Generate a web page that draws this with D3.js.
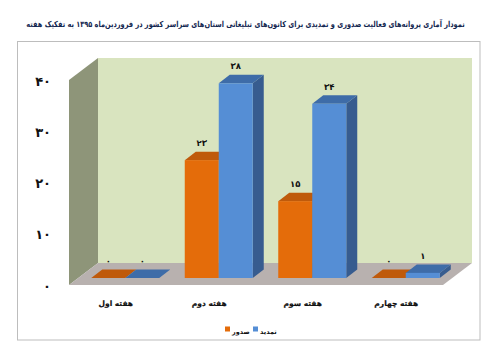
<!DOCTYPE html>
<html lang="fa">
<head>
<meta charset="utf-8">
<script src="https://cdn.jsdelivr.net/npm/d3@7"></script>
<style>
  body { margin: 0; background: white; }
  text { font-family: "DejaVu Sans", sans-serif; font-weight: bold; fill: #111; }
</style>
</head>
<body>
<div id="wykres"></div>
<script>
var categories = ["هفته اول", "هفته دوم", "هفته سوم", "هفته چهارم"];
var sodoor = [0, 23, 15, 0];
var tamdid = [0, 38, 34, 1];
var sodoorLabels = ["۰", "۲۳", "۱۵", "۰"];
var tamdidLabels = ["۰", "۳۸", "۳۴", "۱"];
var yTicks = [0, 10, 20, 30, 40];
var yTickLabels = ["۰", "۱۰", "۲۰", "۳۰", "۴۰"];
var seriesNames = ["صدور", "تمدید"];
var title = "نمودار آماری پروانه‌های فعالیت صدوری و تمدیدی برای کانون‌های تبلیغاتی استان‌های سراسر کشور در فروردین‌ماه ۱۳۹۵ به تفکیک هفته";

var svg = d3.select("#wykres")
  .append("svg")
  .attr("width", 500)
  .attr("height", 352)
  .style("display", "block")
  .style("background", "white");

svg.append("rect")
  .attr("x", 17.5)
  .attr("y", 41.5)
  .attr("width", 462.5)
  .attr("height", 298.5)
  .attr("fill", "white")
  .attr("stroke", "#bdbdbd");

// the title is squeezed sideways to fit, the original font is narrow
var titleText = svg.append("text")
  .attr("text-anchor", "middle")
  .attr("direction", "rtl")
  .style("font-size", "8.3px")
  .style("fill", "#12264f")
  .text(title);
var titleScale = 439 / titleText.node().getComputedTextLength();
titleText.attr("transform", "translate(245.5,27) scale(" + titleScale + ",1)");

// scales
var yscale = d3.scaleLinear().domain([0, 40]).range([285, 80]);
var xscale = d3.scaleBand().domain(categories).range([69, 443]);
var barW = 34;
var depthX = 11, depthY = 8.5;   // bar depth
var wallX = 29, wallY = 22;      // depth of the chart box
var lift = 7;                    // bars stand inside the floor
var shift = 9.5;

var x0 = xscale.range()[0], x1 = xscale.range()[1];
var yBottom = yscale(0), yTop = yscale(40);

function poly(pts) {
  return d3.line()(pts) + "Z";
}

// left wall
svg.append("path")
  .attr("d", poly([[x0, yTop], [x0 + wallX, yTop - wallY], [x0 + wallX, yBottom - wallY], [x0, yBottom]]))
  .attr("fill", "#8e9579");

// back wall
svg.append("rect")
  .attr("x", x0 + wallX)
  .attr("y", yTop - wallY)
  .attr("width", x1 - x0)
  .attr("height", yBottom - yTop)
  .attr("fill", "#d9e4bf");

// floor
svg.append("path")
  .attr("d", poly([[x0, yBottom], [x0 + wallX, yBottom - wallY], [x1 + wallX, yBottom - wallY], [x1, yBottom]]))
  .attr("fill", "#b8b1af");

var series = [
  { values: sodoor, labels: sodoorLabels, front: "#e46c0a", top: "#bf5a0b", side: "#a34d09", off: -barW },
  { values: tamdid, labels: tamdidLabels, front: "#558ed5", top: "#3e6ca8", side: "#375c8f", off: 0 }
];

// bars
categories.forEach(function (c, i) {
  series.forEach(function (s) {
    var left = xscale(c) + xscale.bandwidth() / 2 + shift + s.off;
    var right = left + barW;
    var base = yscale(0) - lift;
    var top = yscale(s.values[i]) - lift;
    var g = svg.append("g");

    g.append("path")
      .attr("d", poly([[right, top], [right + depthX, top - depthY], [right + depthX, base - depthY], [right, base]]))
      .attr("fill", s.side);
    g.append("path")
      .attr("d", poly([[left, top], [left + depthX, top - depthY], [right + depthX, top - depthY], [right, top]]))
      .attr("fill", s.top);
    g.append("rect")
      .attr("x", left)
      .attr("y", top)
      .attr("width", barW)
      .attr("height", base - top)
      .attr("fill", s.front);

    g.append("text")
      .attr("x", left + barW / 2)
      .attr("y", top - 14)
      .attr("text-anchor", "middle")
      .style("font-size", "8.5px")
      .text(s.labels[i]);
  });
});

// y axis
var yAxis = svg.append("g")
  .attr("transform", "translate(51,1)")
  .call(d3.axisLeft(yscale)
    .tickValues(yTicks)
    .tickSize(0)
    .tickPadding(0)
    .tickFormat(function (d, i) { return yTickLabels[i]; }));
yAxis.select(".domain").remove();
yAxis.selectAll("text")
  .style("font-family", '"DejaVu Sans", sans-serif')
  .style("font-size", "13px");

// x axis
var xAxis = svg.append("g")
  .attr("transform", "translate(0,301)")
  .call(d3.axisBottom(xscale).tickSize(0).tickPadding(0));
xAxis.select(".domain").remove();
xAxis.selectAll("text")
  .attr("direction", "rtl")
  .style("font-family", '"DejaVu Sans", sans-serif')
  .style("font-size", "7.5px")
  .style("stroke", "#111")
  .style("stroke-width", "0.2px");

// legend
var legendX = [225, 253];
seriesNames.forEach(function (n, i) {
  svg.append("rect")
    .attr("x", legendX[i])
    .attr("y", 326.5)
    .attr("width", 5)
    .attr("height", 5)
    .attr("fill", series[i].front);
  svg.append("text")
    .attr("x", legendX[i] + 7)
    .attr("y", 334)
    .style("font-size", "6.5px")
    .text(n);
});
</script>
</body>
</html>
